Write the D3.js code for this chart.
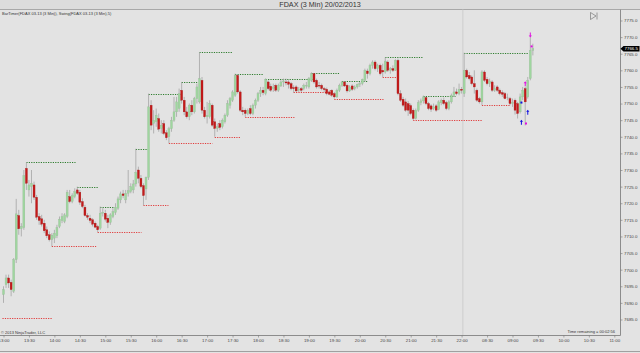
<!DOCTYPE html>
<html>
<head>
<meta charset="utf-8">
<script src="https://cdn.jsdelivr.net/npm/d3@7/dist/d3.min.js"></script>
<style>
  html, body { margin: 0; padding: 0; background: #e3e3e3; }
  svg { display: block; font-family: "Liberation Sans", Arial, sans-serif; }
</style>
</head>
<body>
<div id="container"></div>
<script>
//### DATA ###
// FDAX 03-13, 3 minute bars, 20/02/2013 13:00 -> 21/02/2013 09:24
// [open, high, low, close]
const ohlc = [
  [7692.5,7695,7690,7694],[7695.5,7698.5,7694.5,7697.5],[7697.5,7698.5,7694.5,7696],[7696.2,7697,7692,7694],
  [7693.5,7703.5,7693,7703],[7703,7721.3,7702,7716.8],[7716.3,7718,7710.5,7712.3],[7712.3,7714,7710,7713],
  [7712.7,7730,7712,7728.3],[7730.5,7732.3,7724,7726],[7724,7727,7722,7725.5],[7725,7730,7720,7726],
  [7725.5,7726.5,7721,7721.8],[7721.8,7722.5,7715,7715.8],[7716,7717,7713.5,7714.8],[7715.3,7716.5,7713,7713.7],
  [7714,7715,7711,7711.7],[7712,7713,7709.5,7710.2],[7710.5,7711.5,7708.5,7709],[7709,7711,7707,7710.4],
  [7709.5,7712,7708,7711],[7710.2,7713.5,7709.5,7712.7],[7713,7716,7712.5,7715.2],[7714.8,7717,7714,7716],
  [7714.5,7717,7714,7716.5],[7716,7724,7715.5,7723.3],[7722,7724,7720,7720.5],[7720.5,7723,7720,7722.3],
  [7722,7724.5,7721.5,7723.5],[7724,7725,7722.5,7723],[7723.3,7724,7719.5,7720.3],[7720.5,7721.5,7718.5,7719],
  [7718.8,7719.5,7716,7716.3],[7716.3,7717,7715,7715.8],[7715.5,7716.5,7714,7714.8],[7715,7715.5,7713,7713.7],
  [7714,7714.5,7712.5,7712.8],[7713,7713.5,7711.3,7712],[7712.5,7719,7712,7717],[7717,7718.5,7716,7717.3],
  [7717,7718,7714.5,7715.2],[7715.5,7716.5,7712.5,7714.2],[7714.2,7717,7713.5,7716.5],[7716,7718.5,7715.5,7717.5],
  [7717.2,7720,7716.5,7718.8],[7718.5,7722,7718,7721.3],[7721,7723.5,7720,7722.8],[7722.8,7724,7721.5,7722.3],
  [7721,7724,7720,7723],[7723,7730,7722,7723.8],[7723.5,7726,7723,7725],[7724,7727,7723,7725.8],
  [7725.8,7736.4,7725,7729.3],[7730,7731,7726,7727.5],[7727.5,7728.5,7724.5,7725],[7725.3,7726,7719.4,7722.3],
  [7724.3,7728,7721,7727.8],[7727.8,7753,7727,7749],[7749.5,7751,7742,7743.5],[7744,7748,7741,7745],
  [7744.5,7748.5,7743,7746.5],[7745.5,7747,7741.5,7742.3],[7742.5,7745,7741,7743.5],[7744,7745,7740.5,7741],
  [7741.2,7742,7739,7739.7],[7740,7743,7738,7742.4],[7742.4,7746,7741.5,7745],[7745,7752,7744.5,7747.5],
  [7747.5,7752,7746,7750.5],[7748.5,7754.5,7747.5,7753],[7754,7756.5,7750,7751],[7751,7752,7746.5,7747.5],
  [7747.5,7749,7745.5,7746],[7746,7750,7745,7749.5],[7749.5,7751,7746.5,7747.5],[7747.5,7752,7747,7751.5],
  [7751.5,7756,7750,7755],[7750.5,7765.4,7750,7757.5],[7757,7758,7747,7748],[7748,7749,7745.5,7746],
  [7746,7750.5,7744,7746.5],[7746,7751,7745.5,7750],[7749.5,7750,7743,7743.5],[7744.5,7745.5,7740,7742.5],
  [7742.5,7744,7741.5,7743],[7744,7745,7742,7742.8],[7743,7745.5,7742.5,7745],[7744.5,7747,7744,7746.5],
  [7746.5,7751,7746,7750],[7749.5,7752,7748.5,7751.5],[7751,7754,7750.5,7753.5],[7752.5,7759,7752,7758.5],
  [7758.5,7758.8,7753,7753.5],[7753.5,7754,7747.5,7748],[7748,7749,7746.5,7747.5],[7748,7748.5,7746,7747],
  [7747,7748.5,7746.5,7748],[7748.5,7749.5,7746.5,7747],[7747,7750,7746.5,7749.5],[7749.5,7751.5,7748.5,7751],
  [7751,7753.5,7750.5,7753],[7753,7755,7752,7754],[7754,7755,7752.5,7753.3],[7753,7757.6,7752.5,7757.3],
  [7756.5,7757,7754,7754.5],[7755.2,7756,7753.5,7754],[7754.5,7756,7753.5,7755],[7755.5,7756,7753.5,7754],
  [7754,7756,7753.5,7755.5],[7755.3,7757,7755,7756.5],[7756.5,7757.5,7755,7756.8],[7756.5,7757.5,7755.5,7756.2],
  [7756.5,7757,7754.5,7755.8],[7756,7756.5,7754,7754.5],[7754.8,7755.5,7753.3,7754.5],[7755,7755.5,7753.5,7753.8],
  [7754,7755,7753.5,7754.3],[7754.5,7755,7753.5,7754],[7754.5,7756,7754,7755.5],[7755.3,7756.5,7754.5,7755.5],
  [7755,7758,7754.5,7757.5],[7757,7759.4,7756.5,7759],[7759,7759.2,7756,7756.5],[7757,7757.5,7754.5,7755],
  [7755.5,7756.5,7754.5,7755.3],[7755.5,7756,7754,7754.5],[7754.5,7755,7753.5,7754.2],[7754.3,7754.8,7752.5,7753],
  [7753.5,7754,7752.5,7752.8],[7754,7754.3,7752,7752.5],[7753,7753.5,7751.5,7752],[7752,7754.5,7751.7,7754],
  [7754,7756,7753.5,7755.5],[7755.5,7756.8,7755,7756.5],[7756.5,7756.7,7755,7755.3],[7755.5,7756,7753.3,7753.8],
  [7753.8,7755.5,7753.5,7755],[7755.3,7755.8,7753.8,7754.3],[7754.5,7755.5,7754,7755],[7755,7756,7754.5,7755.8],
  [7755.8,7756.5,7755,7756],[7756,7757.5,7755.5,7757.3],[7757,7760.5,7756.5,7760],[7759.8,7760.5,7757.5,7759],
  [7759,7762,7758.5,7761.5],[7761.5,7763,7760.5,7762.5],[7762.5,7763,7760,7760.5],[7760.5,7762,7759.5,7761.5],
  [7761.5,7762,7758.5,7759],[7760,7762,7758,7759.5],[7759.5,7763.9,7759,7762.8],[7762.5,7763,7759.5,7760],
  [7760,7761,7759,7760.5],[7760.5,7761.5,7759.5,7760],[7760,7763.3,7759.8,7763],[7763,7763.5,7752.5,7753],
  [7753,7754,7750.5,7751],[7751.3,7752,7749,7749.5],[7750.5,7751.5,7747.5,7748],[7750,7750.8,7746.3,7748],
  [7749.4,7750,7746.5,7747],[7748,7748.5,7745,7745.5],[7745.5,7748.5,7745.2,7748],[7748,7751,7747.5,7750.3],
  [7750.3,7751.5,7749.5,7750.8],[7750.8,7752.4,7750,7752],[7751.8,7752,7749.5,7750],[7750,7750.5,7748,7748.5],
  [7749.3,7749.8,7747.5,7748.3],[7748.5,7750,7748,7749],[7749.3,7749.8,7747.5,7748],[7748.2,7751,7748,7750.5],
  [7750.2,7751.5,7749.5,7751],[7751,7751.8,7749.5,7750],[7750.3,7750.8,7748,7748.5],[7748.5,7751,7748,7750.5],
  [7750.5,7753,7750,7752.5],[7752.5,7755,7752,7753.5],[7753.5,7754.5,7752.5,7753],[7753,7756,7752.5,7754.3],
  [7754.3,7755,7753,7754],[7753,7765.3,7752,7760],[7760,7760.5,7757.5,7758],[7758.5,7759.5,7757,7757.5],
  [7758,7758.5,7755.5,7756],[7756,7760,7753,7755],[7754,7754.5,7750.5,7751],[7751.5,7752,7750,7750.5],
  [7750.5,7760,7749.5,7759.5],[7759.5,7760,7756.5,7757],[7757.3,7758,7755.5,7756],[7756,7757.5,7755,7756.8],
  [7756.5,7757,7753.5,7754],[7754,7755.5,7753.5,7754.5],[7755,7755.5,7753.5,7754],[7754,7754.5,7752.5,7753],
  [7753.3,7754,7752,7752.8],[7753,7753.5,7751.3,7751.5],[7752,7753,7751,7752],[7751.5,7752,7749.5,7750],
  [7750,7751.5,7749,7750.3],[7751,7751.5,7746.7,7748],[7750,7750.5,7745.5,7747],[7747.5,7753,7747,7752],
  [7752,7755,7751,7754],[7754.5,7755,7743.4,7750.5],[7752,7758,7751.5,7757],[7757.5,7770,7757,7766],
  [7766,7768,7764.5,7766.5]
];

// Swing(5) lines: [price, start bar, end bar]
const swingHighs = [
  [7732.3,9,28.3],[7725,29,37.3],[7719,38,43.2],[7736.4,52,57],[7753,57,69.5],[7756.5,70,76.1],
  [7765.4,77,90.1],[7759,91,102.2],[7757.5,103,121.4],[7759.3,121,132],[7756.8,133,143],
  [7763.9,150,165],[7752.4,165,177.6],[7765.2,181,206.3]
];
const swingLows = [
  [7685.5,-0.4,19.3],[7707,19,36.4],[7711.3,37,54.2],[7719.4,55,64.8],[7738,65,82.1],[7740,83,93.1],
  [7746,95,114.3],[7753.4,114,127.3],[7751.5,130,149.3],[7758,149,155.2],[7745,161,188.2],[7749.5,188,199.2]
];

// Signal markers: [bar, price, colour, direction]
const markers = [
  [203.5,7744.2,'#1010e0','up'],[206,7747.2,'#1010e0','up'],[203.5,7750.3,'#1010e0','dot'],
  [205,7755.8,'#e010e0','up'],[205.3,7744,'#e010e0','dot'],[207,7770.8,'#e010e0','down'],
  [207.5,7767.2,'#e010e0','dot']
];

// Axis ticks
const xTickBars = [0,10,20,30,40,50,60,70,80,90,100,110,120,130,140,150,160,170,180,190,200,210,220,230,240];
const xTickLabels = ['13:00','13:30','14:00','14:30','15:00','15:30','16:00','16:30','17:00','17:30','18:00','18:30',
  '19:00','19:30','20:00','20:30','21:00','21:30','22:00','08:30','09:00','09:30','10:00','10:30','11:00'];
const yTicks = [7685,7690,7695,7700,7705,7710,7715,7720,7725,7730,7735,7740,7745,7750,7755,7760,7765,7770,7775];
const sessionBreaks = [180.5];
const lastPrice = 7766.5;


//### CREATE THE CHART ###
const W = 640, H = 353;
const plot = { left: 0, right: 620.5, top: 9.5, bottom: 335.5 };

const svg = d3.select( '#container' )
  .append( 'svg' )
  .attr( 'width', W )
  .attr( 'height', H );

//_____ BACKGROUND _____
svg.append( 'rect' ).attr( 'width', W ).attr( 'height', H ).attr( 'fill', '#e3e3e3' );
svg.append( 'rect' ).attr( 'width', W ).attr( 'height', plot.top ).attr( 'fill', '#dcdcdc' );
svg.append( 'line' )
  .attr( 'x1', 0 ).attr( 'x2', W ).attr( 'y1', plot.top ).attr( 'y2', plot.top )
  .attr( 'stroke', '#a8a8a8' ).attr( 'stroke-width', 1 );

//_____ SCALES _____
const x = d3.scaleLinear().domain( [ 0, 240 ] ).range( [ 3.5, 614.3 ] );
const y = d3.scaleLinear().domain( [ 7685, 7775 ] ).range( [ 319.5, 20.5 ] );

//_____ SESSION BREAK _____
svg.selectAll( '.session' )
  .data( sessionBreaks )
  .enter()
  .append( 'line' )
  .attr( 'x1', d => x( d ) ).attr( 'x2', d => x( d ) )
  .attr( 'y1', plot.top ).attr( 'y2', plot.bottom )
  .attr( 'stroke', '#cdcdcd' ).attr( 'stroke-width', 1 );

//_____ SWING LINES _____
const drawSwing = ( rows, color ) => {
  svg.append( 'g' ).selectAll( 'line' )
    .data( rows )
    .enter()
    .append( 'line' )
    .attr( 'x1', d => x( d[ 1 ] ) ).attr( 'x2', d => x( d[ 2 ] ) )
    .attr( 'y1', d => Math.round( y( d[ 0 ] ) ) + 0.5 ).attr( 'y2', d => Math.round( y( d[ 0 ] ) ) + 0.5 )
    .attr( 'stroke', color ).attr( 'stroke-width', 1 )
    .attr( 'stroke-dasharray', '1.2,1.2' );
};
drawSwing( swingHighs, '#2e7d2e' );
drawSwing( swingLows, '#e03c3c' );

//_____ CANDLES _____
const bodyW = 2;
const candles = svg.append( 'g' ).selectAll( 'g' )
  .data( ohlc )
  .enter()
  .append( 'g' );

candles.append( 'line' )
  .attr( 'x1', ( d, i ) => x( i ) ).attr( 'x2', ( d, i ) => x( i ) )
  .attr( 'y1', d => y( d[ 1 ] ) ).attr( 'y2', d => y( d[ 2 ] ) )
  .attr( 'stroke', '#a4a4a4' ).attr( 'stroke-width', 0.8 );

candles.append( 'rect' )
  .attr( 'x', ( d, i ) => x( i ) - bodyW / 2 )
  .attr( 'width', bodyW )
  .attr( 'y', d => y( Math.max( d[ 0 ], d[ 3 ] ) ) )
  .attr( 'height', d => Math.max( 0.8, Math.abs( y( d[ 0 ] ) - y( d[ 3 ] ) ) ) )
  .attr( 'fill', d => d[ 3 ] > d[ 0 ] ? '#9fd69f' : d[ 3 ] < d[ 0 ] ? '#c41a1a' : '#a4a4a4' )
  .attr( 'stroke', d => d[ 3 ] > d[ 0 ] ? '#95b995' : d[ 3 ] < d[ 0 ] ? '#a01515' : 'none' )
  .attr( 'stroke-width', 0.3 );

//_____ MARKERS _____
markers.forEach( m => {
  const mx = x( m[ 0 ] ), my = y( m[ 1 ] );
  if ( m[ 3 ] === 'dot' ) {
    svg.append( 'rect' ).attr( 'x', mx - 1 ).attr( 'y', my - 1 ).attr( 'width', 2 ).attr( 'height', 2 ).attr( 'fill', m[ 2 ] );
  } else {
    const s = m[ 3 ] === 'up' ? 1 : -1;
    svg.append( 'path' )
      .attr( 'd', `M${mx},${my - 3 * s} L${mx - 1.6},${my - 1 * s} L${mx + 1.6},${my - 1 * s} Z M${mx - 0.5},${my - 1 * s} h1 v${3 * s} h-1 Z` )
      .attr( 'fill', m[ 2 ] );
  }
} );

//_____ FRAME _____
svg.append( 'line' )
  .attr( 'x1', plot.right ).attr( 'x2', plot.right ).attr( 'y1', plot.top ).attr( 'y2', plot.bottom )
  .attr( 'stroke', '#8c8c8c' );
svg.append( 'line' )
  .attr( 'x1', 0 ).attr( 'x2', plot.right ).attr( 'y1', plot.bottom ).attr( 'y2', plot.bottom )
  .attr( 'stroke', '#8c8c8c' );
svg.append( 'line' )
  .attr( 'x1', 0 ).attr( 'x2', W ).attr( 'y1', H - 1.5 ).attr( 'y2', H - 1.5 )
  .attr( 'stroke', '#a0a0a0' );

//_____ AXES _____
const yAxis = d3.axisRight( y )
  .tickValues( yTicks )
  .tickFormat( d => d.toFixed( 1 ) )
  .tickSize( 2 )
  .tickPadding( 1.5 );
const yAxisG = svg.append( 'g' )
  .attr( 'transform', `translate(${plot.right},0)` )
  .call( yAxis );

const xAxis = d3.axisBottom( x )
  .tickValues( xTickBars )
  .tickFormat( ( d, i ) => xTickLabels[ i ] )
  .tickSize( 2 )
  .tickPadding( 1.5 );
const xAxisG = svg.append( 'g' )
  .attr( 'transform', `translate(0,${plot.bottom})` )
  .call( xAxis );

[ yAxisG, xAxisG ].forEach( g => {
  g.select( '.domain' ).remove();
  g.selectAll( 'line' ).attr( 'stroke', '#777' ).attr( 'stroke-width', 0.6 );
  g.selectAll( 'text' ).attr( 'fill', '#444' ).style( 'font-size', '4.4px' );
} );

//_____ LAST PRICE TAG _____
const lp = y( lastPrice );
svg.append( 'path' )
  .attr( 'd', `M${plot.right},${lp} l3,-2.8 h16 v5.6 h-16 Z` )
  .attr( 'fill', '#000' );
svg.append( 'text' )
  .attr( 'x', plot.right + 4 ).attr( 'y', lp + 1.6 )
  .attr( 'fill', '#fff' ).style( 'font-size', '4.4px' )
  .text( lastPrice.toFixed( 1 ) );

//_____ TEXTS _____
svg.append( 'text' )
  .attr( 'x', W / 2 ).attr( 'y', 7.2 )
  .attr( 'text-anchor', 'middle' )
  .attr( 'fill', '#333' ).style( 'font-size', '7.2px' )
  .text( 'FDAX  (3 Min)  20/02/2013' );

svg.append( 'text' )
  .attr( 'x', 2 ).attr( 'y', 15 )
  .attr( 'fill', '#333' ).style( 'font-size', '4px' )
  .text( 'BarTimer(FDAX 03-13 (3 Min)), Swing(FDAX 03-13 (3 Min),5)' );

svg.append( 'text' )
  .attr( 'x', 1 ).attr( 'y', 334 )
  .attr( 'fill', '#333' ).style( 'font-size', '4px' )
  .text( '\u00a9 2013 NinjaTrader, LLC' );

svg.append( 'text' )
  .attr( 'x', 615 ).attr( 'y', 333 )
  .attr( 'text-anchor', 'end' )
  .attr( 'fill', '#333' ).style( 'font-size', '4px' )
  .text( 'Time remaining = 00:02:56' );

// collapse icon
svg.append( 'path' )
  .attr( 'd', 'M590.5,12.5 L596,16 L590.5,19.5 Z M597,12.5 V19.5' )
  .attr( 'fill', 'none' ).attr( 'stroke', '#666' ).attr( 'stroke-width', 0.6 );
</script>
</body>
</html>
